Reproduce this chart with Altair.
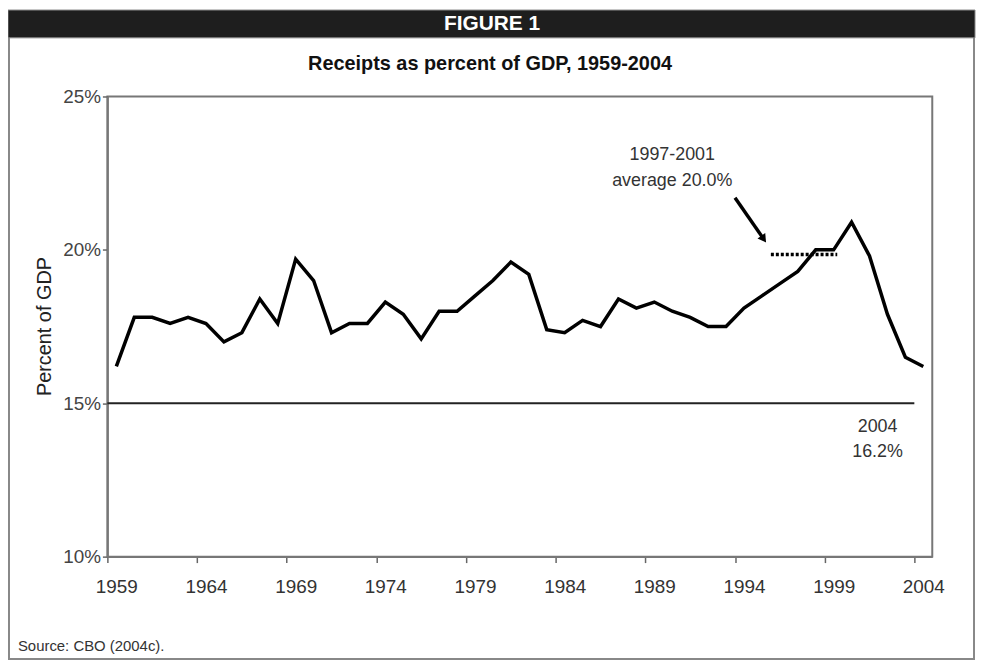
import altair as alt
import pandas as pd

# ---------------- data ----------------
years = list(range(1959, 2005))
receipts = [16.2, 17.8, 17.8, 17.6, 17.8, 17.6, 17.0, 17.3, 18.4, 17.6,
            19.7, 19.0, 17.3, 17.6, 17.6, 18.3, 17.9, 17.1, 18.0, 18.0,
            18.5, 19.0, 19.6, 19.2, 17.4, 17.3, 17.7, 17.5, 18.4, 18.1,
            18.3, 18.0, 17.8, 17.5, 17.5, 18.1, 18.5, 18.9, 19.3, 20.0,
            20.0, 20.9, 19.8, 17.9, 16.5, 16.2]
tick_years = [1959, 1964, 1969, 1974, 1979, 1984, 1989, 1994, 1999, 2004]
y_ticks = [10, 15, 20, 25]

avg_x = [1995.5, 1999.2]
avg_y = [19.85, 19.85]
base_x = [1958.5, 2003.5]
base_y = [15, 15]
arrow_x = [1993.5, 1995.1]
arrow_y = [21.7, 20.35]
ann_text = ["1997-2001", "average 20.0%", "2004", "16.2%"]
ann_x = [1990.0, 1990.0, 2001.45, 2001.45]
ann_y = [23.08, 22.24, 14.22, 13.41]

FONT = "Liberation Sans"

df = pd.DataFrame({"year": years, "pct": receipts})
avg_df = pd.DataFrame({"x": avg_x, "y": avg_y})
base_df = pd.DataFrame({"x": base_x, "y": base_y})
arrow_df = pd.DataFrame({"x": arrow_x, "y": arrow_y, "o": [0, 1]})
head_df = pd.DataFrame({"x": [arrow_x[-1]], "y": [arrow_y[-1]]})
ann_df = pd.DataFrame({"t": ann_text, "x": ann_x, "y": ann_y})
one = pd.DataFrame({"a": [0]})

xscale = alt.Scale(domain=[1958.5, 2004.5], nice=False, zero=False)
yscale = alt.Scale(domain=[10, 25], nice=False, zero=False)

x_axis = alt.Axis(values=tick_years, format="d", title=None, grid=False,
                  labelFontSize=19, labelColor="#333", labelFont=FONT,
                  tickSize=6, tickColor="#666", tickWidth=1.5,
                  tickOffset=-9.02, labelOffset=9.02, labelPadding=15,
                  domainColor="#777", domainWidth=2, labelFlush=False)
y_axis = alt.Axis(values=y_ticks, labelExpr="datum.value + '%'", grid=False,
                  title="Percent of GDP", titleFontSize=20, titleFontWeight="normal",
                  titleColor="#222", titleFont=FONT, titleX=-63, titleY=231,
                  titleAngle=270, titleAlign="center", titleBaseline="middle",
                  labelFontSize=19, labelColor="#444", labelFont=FONT,
                  tickSize=5, tickColor="#666", tickWidth=1.5, labelPadding=2,
                  domainColor="#777", domainWidth=2)

frame = alt.Chart(one).mark_rect(fillOpacity=0, stroke="#888", strokeWidth=2).encode(
    x=alt.value(-99), x2=alt.value(872), y=alt.value(-86), y2=alt.value(566))
bar = alt.Chart(one).mark_rect(fill="#1e1e1e", stroke="#888", strokeWidth=1).encode(
    x=alt.value(-100), x2=alt.value(873), y=alt.value(-87), y2=alt.value(-59))
fig_text = alt.Chart(one).mark_text(text="FIGURE 1", font=FONT, fontSize=21,
                                    fontWeight="bold", color="white",
                                    align="center", baseline="middle").encode(
    x=alt.value(387), y=alt.value(-73))
title_text = alt.Chart(one).mark_text(text="Receipts as percent of GDP, 1959-2004",
                                      font=FONT, fontSize=20, fontWeight="bold",
                                      color="#111", align="center", baseline="middle").encode(
    x=alt.value(385), y=alt.value(-33))
source_text = alt.Chart(one).mark_text(text="Source: CBO (2004c).", font=FONT,
                                       fontSize=15, color="#333", align="left",
                                       baseline="middle").encode(
    x=alt.value(-90), y=alt.value(553))

base_line = alt.Chart(base_df).mark_line(color="#222", strokeWidth=2).encode(
    x=alt.X("x:Q", scale=xscale, axis=x_axis),
    y=alt.Y("y:Q", scale=yscale, axis=y_axis))
line = alt.Chart(df).mark_line(color="black", strokeWidth=3.5, strokeJoin="miter").encode(
    x=alt.X("year:Q", scale=xscale),
    y=alt.Y("pct:Q", scale=yscale))
avg_line = alt.Chart(avg_df).mark_line(color="black", strokeWidth=3.5,
                                       strokeDash=[3, 2]).encode(
    x=alt.X("x:Q", scale=xscale), y=alt.Y("y:Q", scale=yscale))
arrow = alt.Chart(arrow_df).mark_line(color="black", strokeWidth=3.5).encode(
    x=alt.X("x:Q", scale=xscale), y=alt.Y("y:Q", scale=yscale), order="o:Q")
head = alt.Chart(head_df).mark_point(shape="triangle-up", filled=True, color="black",
                                     size=90, angle=145, opacity=1).encode(
    x=alt.X("x:Q", scale=xscale), y=alt.Y("y:Q", scale=yscale))
ann = alt.Chart(ann_df).mark_text(font=FONT, fontSize=18, color="#333",
                                  align="center", baseline="middle").encode(
    x=alt.X("x:Q", scale=xscale), y=alt.Y("y:Q", scale=yscale), text="t:N")

chart = alt.layer(frame, bar, fig_text, title_text, source_text,
                  base_line, line, avg_line, arrow, head, ann).properties(
    width=830, height=463,
    padding={"left": 100, "top": 87, "right": 44, "bottom": 105},
    autosize=alt.AutoSizeParams(type="none"),
    background="white",
).configure_view(stroke="#777", strokeWidth=2)

chart.save("out.html", embed_options={"renderer": "svg", "actions": False})
